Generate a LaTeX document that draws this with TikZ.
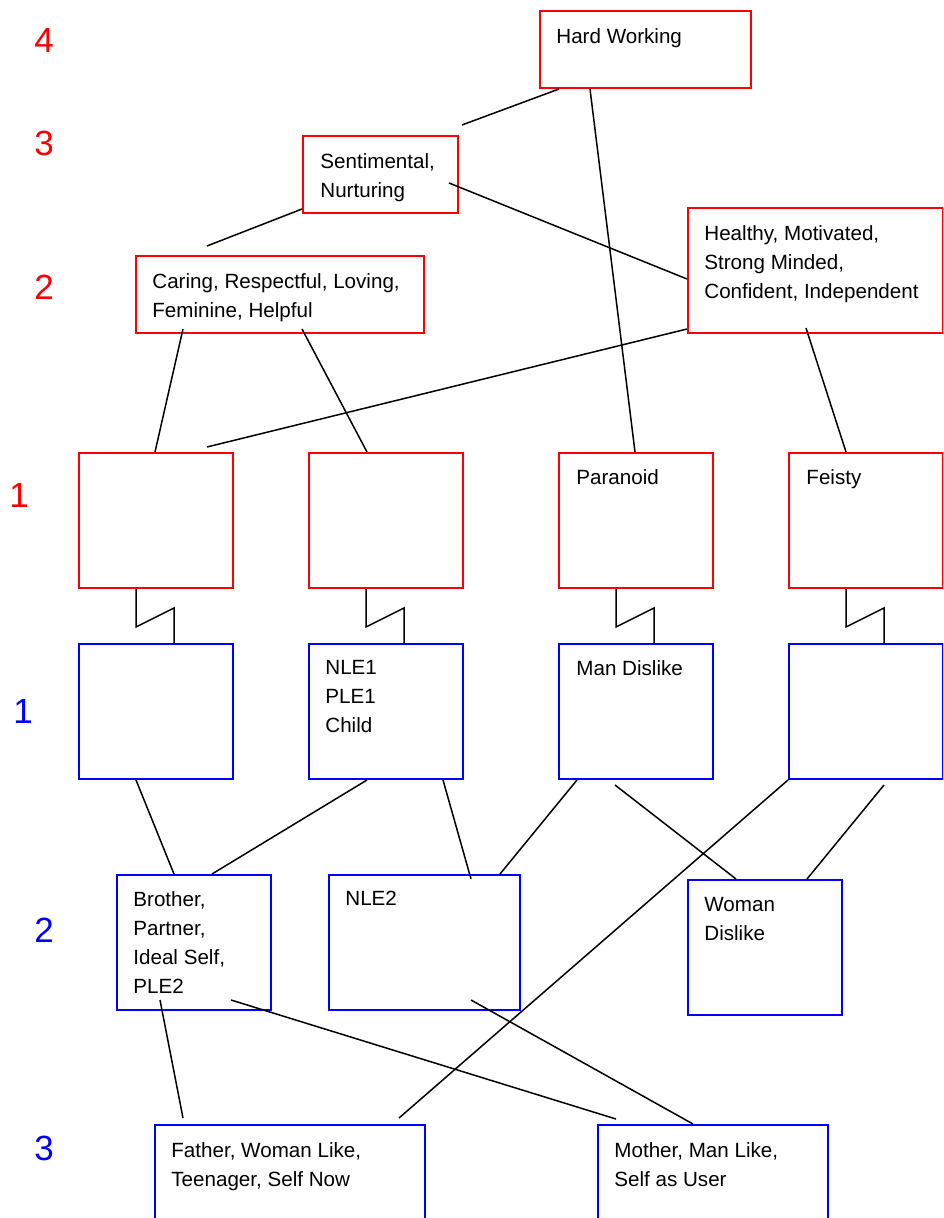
\documentclass[tikz,border=0pt]{standalone}
\usepackage{fontspec}
\setmainfont{Liberation Sans}
\usetikzlibrary{positioning,calc}

\tikzset{
  box/.style={rectangle, inner sep=0pt, line width=1pt, anchor=north west},
  redbox/.style={box, draw=red},
  bluebox/.style={box, draw=blue},
  cell/.style={minimum width=77pt, minimum height=67.5pt},
  txt/.style={inner sep=0pt, align=left, font=\fontsize{10.3}{14.5}\selectfont},
  lvl/.style={font=\fontsize{17.5}{20}\selectfont},
  conn/.style={line width=0.75pt}
}

\begin{document}
\begin{tikzpicture}[x=0.5pt,y=-0.5pt]
\useasboundingbox (0,0) rectangle (943,1218);
\clip (0,0) rectangle (943,1218);

% level numbers
\node[lvl, text=red] (r4lvl) at (44,40) {4};
\node[lvl, text=red] (r3lvl) at (44,143) {3};
\node[lvl, text=red] (r2lvl) at (44,287) {2};
\node[lvl, text=red] (r1lvl) at (19,495) {1};
\node[lvl, text=blue] (b1lvl) at (23,711) {1};
\node[lvl, text=blue] (b2lvl) at (44,930) {2};
\node[lvl, text=blue] (b3lvl) at (44,1148) {3};

% red side
\node[redbox, minimum width=105.5pt, minimum height=38.5pt] (hw) at (539,10) {};
\node[txt, below right=9pt and 8.5pt of hw.north west] (hwtxt) {Hard Working};
\node[redbox, minimum width=77.5pt, minimum height=38.5pt] (sent) at (302,135) {};
\node[txt, below right=9pt and 9pt of sent.north west] (senttxt) {Sentimental,\\Nurturing};
\node[redbox, minimum width=144pt, minimum height=38.5pt] (caring) at (135,255) {};
\node[txt, below right=9pt and 8.5pt of caring.north west] (caringtxt) {Caring, Respectful, Loving,\\Feminine, Helpful};
\node[redbox, minimum width=127.5pt, minimum height=62.5pt] (healthy) at (687,207) {};
\node[txt, below right=9pt and 8.5pt of healthy.north west] (healthytxt) {Healthy, Motivated,\\Strong Minded,\\Confident, Independent};

% level 1, red over blue
\foreach \i/\x in {1/78,2/308,3/558,4/788}{
  \node[redbox, cell] (r\i) at (\x,452) {};
  \node[bluebox, cell] (b\i) at (\x,643) {};
  \draw[conn] ($(r\i.south west)+(58,0)$) -- ++(0,38) -- ++(38,-19) -- ($(b\i.north west)+(96,0)$);
}
\node[txt, below right=8.5pt and 9pt of r3.north west] (partxt) {Paranoid};
\node[txt, below right=8.5pt and 9pt of r4.north west] (feitxt) {Feisty};
\node[txt, below right=8.5pt and 8.5pt of b2.north west] (nletxt) {NLE1\\PLE1\\Child};
\node[txt, below right=8.5pt and 9pt of b3.north west] (mantxt) {Man Dislike};

% blue side
\node[bluebox, cell] (brother) at (116,874) {};
\node[txt, below right=8.5pt and 8.5pt of brother.north west] (brotxt) {Brother,\\Partner,\\Ideal Self,\\PLE2};
\node[bluebox, cell, minimum width=95.5pt] (nle2) at (328,874) {};
\node[txt, below right=8.5pt and 8.5pt of nle2.north west] (nle2txt) {NLE2};
\node[bluebox, cell] (woman) at (687,879) {};
\node[txt, below right=9pt and 8.5pt of woman.north west] (womtxt) {Woman\\Dislike};
\node[bluebox, minimum width=135pt, minimum height=75pt] (father) at (154,1124) {};
\node[txt, below right=9pt and 8.5pt of father.north west] (fattxt) {Father, Woman Like,\\Teenager, Self Now};
\node[bluebox, minimum width=115pt, minimum height=75pt] (mother) at (597,1124) {};
\node[txt, below right=9pt and 8.5pt of mother.north west] (mottxt) {Mother, Man Like,\\Self as User};

% links
\draw[conn] ($(hw.south west)+(20,0)$) -- ($(sent.north west)+(160,-10)$);
\draw[conn] ($(hw.south west)+(51,0)$) -- ($(r3.north west)+(77,0)$);
\draw[conn] ($(sent.south west)+(0,-5)$) -- ($(caring.north west)+(72,-9)$);
\draw[conn] ($(sent.north east)+(-10,48)$) -- ($(healthy.north west)+(0,72)$);
\draw[conn] ($(caring.south west)+(48,-5)$) -- ($(r1.north west)+(77,0)$);
\draw[conn] ($(caring.south west)+(167,-5)$) -- ($(r2.north west)+(59,0)$);
\draw[conn] ($(healthy.south west)+(0,-5)$) -- ($(r1.north west)+(129,-5)$);
\draw[conn] ($(healthy.south west)+(119,-6)$) -- ($(r4.north west)+(58,0)$);

\draw[conn] ($(b1.south west)+(58,0)$) -- ($(brother.north west)+(58,0)$);
\draw[conn] ($(b2.south west)+(59,0)$) -- ($(brother.north west)+(96,0)$);
\draw[conn] ($(b2.south west)+(135,0)$) -- ($(nle2.north west)+(143,5)$);
\draw[conn] ($(b3.south west)+(19,0)$) -- ($(nle2.north west)+(172,0)$);
\draw[conn] ($(b3.south west)+(57,5)$) -- ($(woman.north west)+(49,0)$);
\draw[conn] ($(b4.south west)+(96,5)$) -- ($(woman.north west)+(120,0)$);
\draw[conn] (b4.south west) -- ($(father.north west)+(245,-6)$);
\draw[conn] ($(brother.south west)+(44,-11)$) -- ($(father.north west)+(29,-6)$);
\draw[conn] ($(brother.south west)+(115,-11)$) -- ($(mother.north west)+(19,-5)$);
\draw[conn] ($(nle2.south west)+(143,-11)$) -- ($(mother.north west)+(96,0)$);
\end{tikzpicture}
\end{document}
